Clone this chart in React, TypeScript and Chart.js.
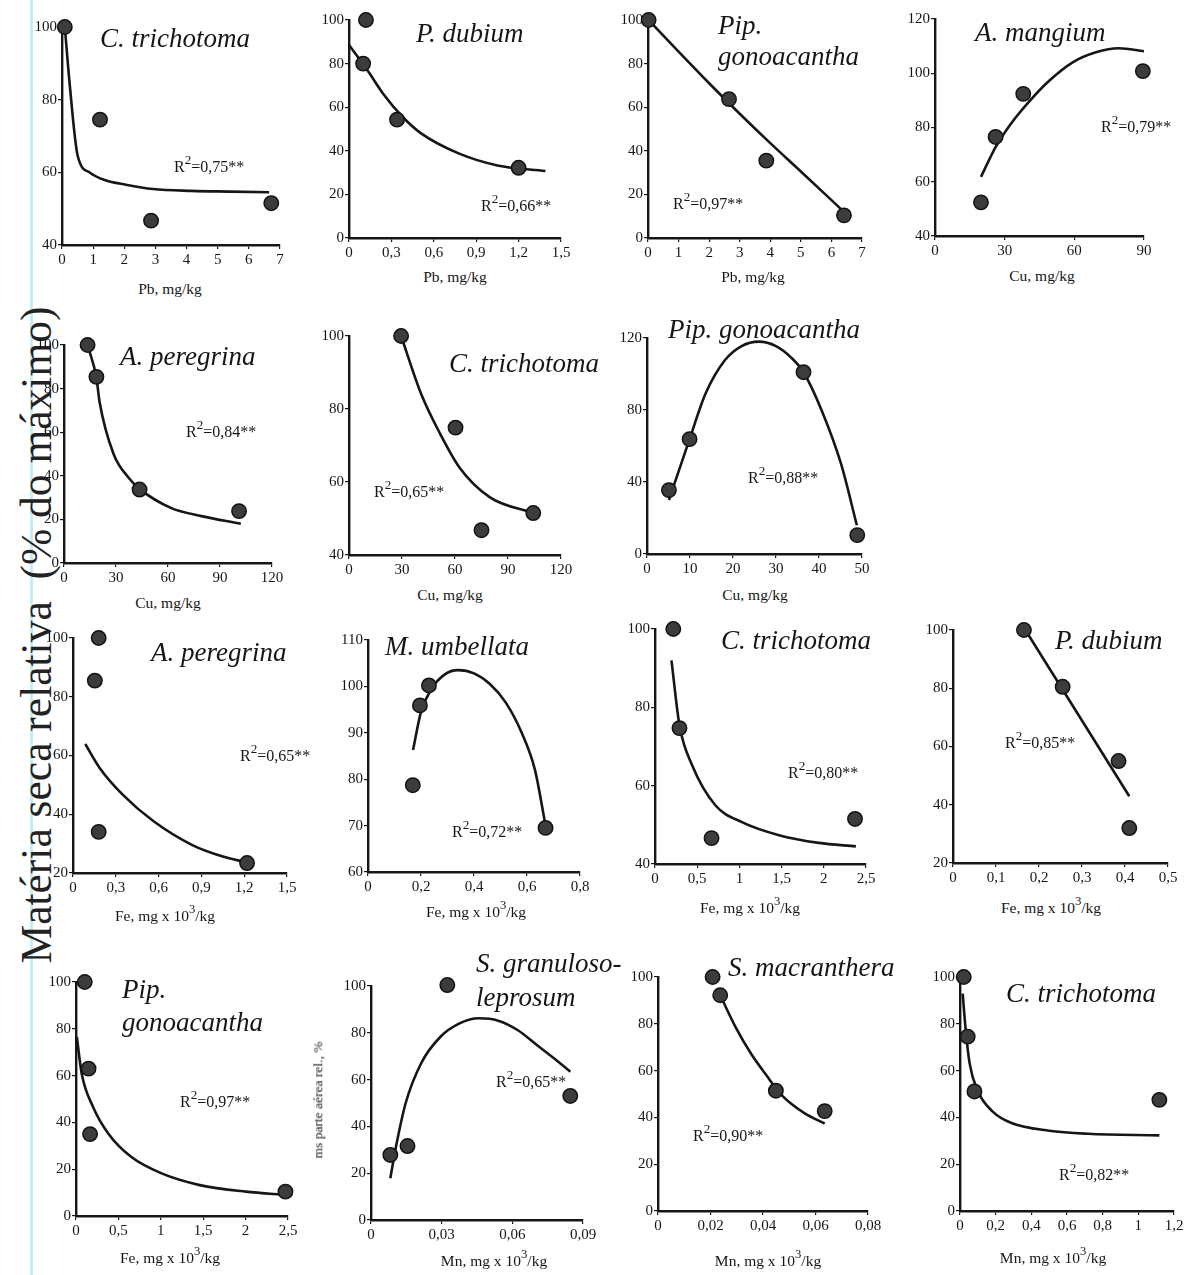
import React, { useEffect, useRef } from 'react';
import { Chart, registerables } from 'chart.js';
Chart.register(...registerables);

const SERIF = '"Liberation Serif", "Times New Roman", serif';
const INK = '#161616';

// ---------------- DATA ----------------
// Tick value lists
const ticksPb7 = [0, 1, 2, 3, 4, 5, 6, 7];
const ticksPb15 = [0, 0.3, 0.6, 0.9, 1.2, 1.5];
const ticksCu90 = [0, 30, 60, 90];
const ticksCu120 = [0, 30, 60, 90, 120];
const ticksCu50 = [0, 10, 20, 30, 40, 50];
const ticksFe15 = [0, 0.3, 0.6, 0.9, 1.2, 1.5];
const ticksFe08 = [0, 0.2, 0.4, 0.6, 0.8];
const ticksFe25 = [0, 0.5, 1, 1.5, 2, 2.5];
const ticksFe05 = [0, 0.1, 0.2, 0.3, 0.4, 0.5];
const ticksMn09 = [0, 0.03, 0.06, 0.09];
const ticksMn08 = [0, 0.02, 0.04, 0.06, 0.08];
const ticksMn12 = [0, 0.2, 0.4, 0.6, 0.8, 1, 1.2];
const yTicks40to100 = [40, 60, 80, 100];
const yTicks0to100 = [0, 20, 40, 60, 80, 100];
const yTicks40to120 = [40, 60, 80, 100, 120];
const yTicks0to120 = [0, 40, 80, 120];
const yTicks20to100 = [20, 40, 60, 80, 100];
const yTicks60to110 = [60, 70, 80, 90, 100, 110];

// 1 C. trichotoma – Pb
const ctPbX = [0.09, 1.22, 2.86, 6.72];
const ctPbY = [100, 74.5, 46.7, 51.5];
const ctPbFitX = [0.09, 0.25, 0.5, 0.9, 1.37, 2.05, 2.92, 4.17, 5.41, 6.65];
const ctPbFitY = [100, 84, 64.7, 59.9, 57.9, 56.6, 55.4, 54.9, 54.7, 54.5];
// 2 P. dubium – Pb
const pdPbX = [0.12, 0.1, 0.34, 1.2];
const pdPbY = [100, 80, 54.3, 32.2];
const pdPbFitX = [0, 0.07, 0.14, 0.24, 0.38, 0.51, 0.78, 1.05, 1.39];
const pdPbFitY = [88.5, 82.4, 76, 66.3, 55.5, 48, 38.7, 33.3, 30.7];
// 3 Pip. gonoacantha – Pb
const pgPbX = [0.02, 2.65, 3.87, 6.41];
const pgPbY = [100, 63.7, 35.5, 10.4];
const pgPbFitX = [0.02, 1, 2, 3, 4, 5, 6.41];
const pgPbFitY = [100, 85.5, 71, 57, 43.5, 30.5, 12];
// 4 A. mangium – Cu
const amCuX = [19.8, 26.1, 38, 89.5];
const amCuY = [52.4, 76.5, 92.4, 100.8];
const amCuFitX = [19.8, 26.1, 32.7, 41, 49.3, 59.3, 69.3, 79.2, 90];
const amCuFitY = [61.8, 72.8, 81.4, 90, 97.3, 104, 107.7, 109.2, 108.1];
// 5 A. peregrina – Cu
const apCuX = [13.6, 18.7, 43.6, 101];
const apCuY = [100, 85.4, 33.7, 23.8];
const apCuFitX = [13.6, 18.7, 20.5, 28.6, 37.4, 43.6, 61.6, 79.3, 102];
const apCuFitY = [100, 85, 74, 50, 39, 34, 25.3, 21.5, 18];
// 6 C. trichotoma – Cu
const ctCuX = [29.5, 60.3, 75, 104.3];
const ctCuY = [100, 74.9, 46.8, 51.5];
const ctCuFitX = [29.5, 40.8, 51.6, 62.5, 79.8, 104.3];
const ctCuFitY = [100, 84.2, 73.2, 64, 55.8, 51.5];
// 7 Pip. gonoacantha – Cu
const pgCuX = [5.1, 9.9, 36.4, 48.9];
const pgCuY = [35.5, 63.8, 101, 10.5];
const pgCuFitX = [5.1, 9.9, 13.6, 18.1, 22, 26, 30, 33.4, 36.4, 40.6, 45.1, 48.8];
const pgCuFitY = [30, 63.8, 89, 107.6, 115.5, 118, 115.5, 109.4, 101, 79.9, 50.3, 16];
// 8 A. peregrina – Fe
const apFeX = [0.18, 0.153, 0.18, 1.22];
const apFeY = [100, 85.5, 34, 23.4];
const apFeFitX = [0.086, 0.188, 0.35, 0.565, 0.833, 1.05, 1.21];
const apFeFitY = [63.9, 55.7, 46.6, 37.6, 29.6, 25.6, 23.7];
// 9 M. umbellata – Fe
const muFeX = [0.169, 0.196, 0.23, 0.67];
const muFeY = [78.7, 95.9, 100.2, 69.5];
const muFeFitX = [0.17, 0.2, 0.24, 0.29, 0.34, 0.4, 0.46, 0.52, 0.58, 0.63, 0.67];
const muFeFitY = [86.3, 94.5, 99.5, 102.6, 103.5, 102.8, 100.5, 96.5, 90, 82, 70];
// 10 C. trichotoma – Fe
const ctFeX = [0.217, 0.29, 0.67, 2.37];
const ctFeY = [100, 74.7, 46.6, 51.5];
const ctFeFitX = [0.195, 0.29, 0.44, 0.715, 1.03, 1.48, 1.94, 2.38];
const ctFeFitY = [92, 75.4, 65.2, 55, 50.7, 47.3, 45.4, 44.5];
// 11 P. dubium – Fe
const pdFeX = [0.165, 0.255, 0.385, 0.41];
const pdFeY = [100, 80.5, 55, 32];
const pdFeFitX = [0.173, 0.41];
const pdFeFitY = [98.9, 42.9];
// 12 Pip. gonoacantha – Fe
const pgFeX = [0.103, 0.148, 0.166, 2.47];
const pgFeY = [100, 63, 35, 10.4];
const pgFeFitX = [0.01, 0.067, 0.2, 0.38, 0.65, 1.01, 1.46, 2.0, 2.49];
const pgFeFitY = [76.5, 60.9, 46.7, 35.3, 25.3, 18.2, 13.2, 10.4, 9];
// 13 S. granuloso-leprosum – Mn
const sgMnX = [0.0082, 0.0155, 0.0324, 0.0846];
const sgMnY = [27.8, 31.6, 100.4, 53];
const sgMnFitX = [0.0082, 0.0106, 0.0147, 0.0213, 0.0295, 0.0376, 0.0458, 0.054, 0.0622, 0.0704, 0.0786, 0.0846];
const sgMnFitY = [17.8, 31.3, 49.9, 67, 78.3, 84, 86.2, 85.2, 81.2, 74.8, 68.4, 63.4];
// 14 S. macranthera – Mn
const smMnX = [0.0208, 0.0237, 0.0449, 0.0635];
const smMnY = [100, 92.2, 51.4, 42.7];
const smMnFitX = [0.0237, 0.0295, 0.0354, 0.0413, 0.0471, 0.0559, 0.0635];
const smMnFitY = [92.2, 78.7, 67.3, 58, 49.5, 41.7, 37.4];
// 15 C. trichotoma – Mn
const ctMnX = [0.021, 0.043, 0.081, 1.118];
const ctMnY = [100, 74.5, 51.1, 47.5];
const ctMnFitX = [0.015, 0.032, 0.054, 0.096, 0.182, 0.289, 0.5, 0.718, 1.118];
const ctMnFitY = [92.9, 77.3, 63.1, 51.8, 42.6, 37.6, 34.3, 33, 32.3];

// R² values
const r2Values = ['0,75', '0,66', '0,97', '0,79', '0,84', '0,65', '0,88', '0,65', '0,72', '0,80', '0,85', '0,97', '0,65', '0,90', '0,82'];

// ---------------- LAYOUT ----------------
type PanelCfg = {
  px: number[]; py: number[]; fx: number[]; fy: number[];
  xTicks: number[]; yTicks: number[];
  xMin: number; xMax: number; yMin: number; yMax: number;
  box: [number, number, number, number]; // left, top, right, bottom (plot area)
};

const panels: PanelCfg[] = [
  { px: ctPbX, py: ctPbY, fx: ctPbFitX, fy: ctPbFitY, xTicks: ticksPb7, yTicks: yTicks40to100, xMin: 0, xMax: 7, yMin: 40, yMax: 100, box: [62, 27, 280, 245] },
  { px: pdPbX, py: pdPbY, fx: pdPbFitX, fy: pdPbFitY, xTicks: ticksPb15, yTicks: yTicks0to100, xMin: 0, xMax: 1.5, yMin: 0, yMax: 100, box: [349, 20, 561, 238] },
  { px: pgPbX, py: pgPbY, fx: pgPbFitX, fy: pgPbFitY, xTicks: ticksPb7, yTicks: yTicks0to100, xMin: 0, xMax: 7, yMin: 0, yMax: 100, box: [648, 20, 862, 238] },
  { px: amCuX, py: amCuY, fx: amCuFitX, fy: amCuFitY, xTicks: ticksCu90, yTicks: yTicks40to120, xMin: 0, xMax: 90, yMin: 40, yMax: 120, box: [935, 19, 1144, 236] },
  { px: apCuX, py: apCuY, fx: apCuFitX, fy: apCuFitY, xTicks: ticksCu120, yTicks: yTicks0to100, xMin: 0, xMax: 120, yMin: 0, yMax: 100, box: [64, 345, 272, 563] },
  { px: ctCuX, py: ctCuY, fx: ctCuFitX, fy: ctCuFitY, xTicks: ticksCu120, yTicks: yTicks40to100, xMin: 0, xMax: 120, yMin: 40, yMax: 100, box: [349, 336, 561, 555] },
  { px: pgCuX, py: pgCuY, fx: pgCuFitX, fy: pgCuFitY, xTicks: ticksCu50, yTicks: yTicks0to120, xMin: 0, xMax: 50, yMin: 0, yMax: 120, box: [647, 338, 862, 554] },
  { px: apFeX, py: apFeY, fx: apFeFitX, fy: apFeFitY, xTicks: ticksFe15, yTicks: yTicks20to100, xMin: 0, xMax: 1.5, yMin: 20, yMax: 100, box: [73, 638, 287, 873] },
  { px: muFeX, py: muFeY, fx: muFeFitX, fy: muFeFitY, xTicks: ticksFe08, yTicks: yTicks60to110, xMin: 0, xMax: 0.8, yMin: 60, yMax: 110, box: [368, 640, 580, 872] },
  { px: ctFeX, py: ctFeY, fx: ctFeFitX, fy: ctFeFitY, xTicks: ticksFe25, yTicks: yTicks40to100, xMin: 0, xMax: 2.5, yMin: 40, yMax: 100, box: [655, 629, 866, 864] },
  { px: pdFeX, py: pdFeY, fx: pdFeFitX, fy: pdFeFitY, xTicks: ticksFe05, yTicks: yTicks20to100, xMin: 0, xMax: 0.5, yMin: 20, yMax: 100, box: [953, 630, 1168, 863] },
  { px: pgFeX, py: pgFeY, fx: pgFeFitX, fy: pgFeFitY, xTicks: ticksFe25, yTicks: yTicks0to100, xMin: 0, xMax: 2.5, yMin: 0, yMax: 100, box: [76, 982, 288, 1216] },
  { px: sgMnX, py: sgMnY, fx: sgMnFitX, fy: sgMnFitY, xTicks: ticksMn09, yTicks: yTicks0to100, xMin: 0, xMax: 0.09, yMin: 0, yMax: 100, box: [371, 986, 583, 1220] },
  { px: smMnX, py: smMnY, fx: smMnFitX, fy: smMnFitY, xTicks: ticksMn08, yTicks: yTicks0to100, xMin: 0, xMax: 0.08, yMin: 0, yMax: 100, box: [658, 977, 868, 1211] },
  { px: ctMnX, py: ctMnY, fx: ctMnFitX, fy: ctMnFitY, xTicks: ticksMn12, yTicks: yTicks0to100, xMin: 0, xMax: 1.2, yMin: 0, yMax: 100, box: [960, 977, 1174, 1211] },
];

// species titles: text, left x, centre y
const titles: [string, number, number][] = [
  ['C. trichotoma', 100, 38],
  ['P. dubium', 416, 33],
  ['Pip.', 718, 25], ['gonoacantha', 718, 56],
  ['A. mangium', 975, 32],
  ['A. peregrina', 120, 356],
  ['C. trichotoma', 449, 363],
  ['Pip. gonoacantha', 668, 329],
  ['A. peregrina', 151, 652],
  ['M. umbellata', 385, 646],
  ['C. trichotoma', 721, 640],
  ['P. dubium', 1055, 640],
  ['Pip.', 122, 989], ['gonoacantha', 122, 1022],
  ['S. granuloso-', 476, 963], ['leprosum', 476, 997],
  ['S. macranthera', 728, 967],
  ['C. trichotoma', 1006, 993],
];

// R² label positions (left, centre y), same order as panels
const r2Pos: [number, number][] = [
  [174, 167], [481, 206], [673, 204], [1101, 127], [186, 432], [374, 492], [748, 478],
  [240, 756], [452, 832], [788, 773], [1005, 743], [180, 1102], [496, 1082], [693, 1136], [1059, 1175],
];

// x-axis titles: element, centre x, centre y
const xTitles: [string, number, number][] = [
  ['Pb', 170, 289], ['Pb', 455, 277], ['Pb', 753, 277], ['Cu', 1042, 276],
  ['Cu', 168, 603], ['Cu', 450, 595], ['Cu', 755, 595],
  ['Fe', 165, 916], ['Fe', 476, 912], ['Fe', 750, 908], ['Fe', 1051, 908],
  ['Fe', 170, 1258], ['Mn', 494, 1261], ['Mn', 768, 1261], ['Mn', 1053, 1258],
];

const PAD_L = 46, PAD_R = 18, PAD_T = 14, PAD_B = 30;
const fmt = (v: number) => String(v).replace('.', ',');

function Panel({ p }: { p: PanelCfg }) {
  const ref = useRef<HTMLCanvasElement>(null);
  const [l, t, r, b] = p.box;
  const w = r - l + PAD_L + PAD_R;
  const h = b - t + PAD_T + PAD_B;
  useEffect(() => {
    const font = { family: SERIF, size: 15 };
    const chart = new Chart(ref.current as HTMLCanvasElement, {
      type: 'scatter',
      data: {
        datasets: [
          {
            data: p.px.map((x, i) => ({ x, y: p.py[i] })),
            showLine: false,
            pointRadius: 7.2,
            pointBackgroundColor: '#3c3c3c',
            pointBorderColor: '#121212',
            pointBorderWidth: 1.5,
            clip: false as any,
            order: 0,
          },
          {
            data: p.fx.map((x, i) => ({ x, y: p.fy[i] })),
            showLine: true,
            borderColor: INK,
            borderWidth: 2.6,
            pointRadius: 0,
            cubicInterpolationMode: 'monotone',
            fill: false,
            clip: false as any,
            order: 1,
          },
        ],
      },
      options: {
        animation: false,
        responsive: false,
        maintainAspectRatio: false,
        layout: { padding: { left: 0, top: PAD_T, right: PAD_R, bottom: 0 } },
        plugins: { legend: { display: false }, tooltip: { enabled: false } },
        scales: {
          x: {
            type: 'linear',
            min: p.xMin,
            max: p.xMax,
            afterBuildTicks: (ax: any) => { ax.ticks = p.xTicks.map((v) => ({ value: v })); },
            afterFit: (ax: any) => { ax.height = PAD_B; ax.paddingLeft = 0; ax.paddingRight = 0; },
            ticks: { autoSkip: false, maxRotation: 0, minRotation: 0, padding: 2, color: INK, font, callback: (v: any) => fmt(Number(v)) },
            grid: { display: true, drawOnChartArea: false, drawTicks: true, tickLength: 4, color: INK, lineWidth: 1.2 },
            border: { display: true, color: INK, width: 2.4 },
          },
          y: {
            type: 'linear',
            min: p.yMin,
            max: p.yMax,
            afterBuildTicks: (ax: any) => { ax.ticks = p.yTicks.map((v) => ({ value: v })); },
            afterFit: (ax: any) => { ax.width = PAD_L; ax.paddingTop = 0; ax.paddingBottom = 0; },
            ticks: { autoSkip: false, padding: 1, color: INK, font, callback: (v: any) => fmt(Number(v)) },
            grid: { display: true, drawOnChartArea: false, drawTicks: true, tickLength: 4, color: INK, lineWidth: 1.2 },
            border: { display: true, color: INK, width: 2.4 },
          },
        },
      } as any,
    });
    return () => chart.destroy();
  }, []);
  return (
    <canvas
      ref={ref}
      width={w}
      height={h}
      style={{ position: 'absolute', left: l - PAD_L, top: t - PAD_T, width: w, height: h, display: 'block' }}
    />
  );
}

const Sup = ({ c }: { c: string }) => (
  <span style={{ position: 'relative', top: '-0.62em', fontSize: '0.82em', lineHeight: 0 }}>{c}</span>
);

export default function App() {
  return (
    <div style={{ position: 'absolute', left: 0, top: 0, width: 1191, height: 1275, background: '#ffffff', overflow: 'hidden', fontFamily: SERIF, color: INK }}>
      {/* scan edge line */}
      <div style={{ position: 'absolute', left: 30, top: 0, width: 3, height: 1275, background: '#c4eef6' }} />
      {/* common y-axis label */}
      <div
        style={{
          position: 'absolute', left: 37, top: 635, transform: 'translate(-50%, -50%) rotate(-90deg)',
          whiteSpace: 'pre', fontSize: 43.5, lineHeight: 1, color: '#222',
        }}
      >
        {'Matéria seca relativa  (% do máximo)'}
      </div>
      {panels.map((p, i) => <Panel key={i} p={p} />)}
      {titles.map(([t, x, y], i) => (
        <div key={'t' + i} style={{ position: 'absolute', left: x, top: y, transform: 'translateY(-50%)', fontStyle: 'italic', fontSize: 27, lineHeight: 1, whiteSpace: 'nowrap' }}>{t}</div>
      ))}
      {r2Pos.map(([x, y], i) => (
        <div key={'r' + i} style={{ position: 'absolute', left: x, top: y, transform: 'translateY(-50%)', fontSize: 16, lineHeight: 1, whiteSpace: 'nowrap' }}>
          R<Sup c="2" />={r2Values[i]}**
        </div>
      ))}
      {xTitles.map(([el, x, y], i) => (
        <div key={'x' + i} style={{ position: 'absolute', left: x, top: y, transform: 'translate(-50%, -50%)', fontSize: 15.5, lineHeight: 1, whiteSpace: 'nowrap' }}>
          {el === 'Pb' || el === 'Cu' ? `${el}, mg/kg` : (<>{el}, mg x 10<Sup c="3" />/kg</>)}
        </div>
      ))}
      <div style={{ position: 'absolute', left: 318, top: 1100, transform: 'translate(-50%, -50%) rotate(-90deg)', fontSize: 13.5, lineHeight: 1, whiteSpace: 'nowrap' }}>
        ms parte aérea rel., %
      </div>
    </div>
  );
}
